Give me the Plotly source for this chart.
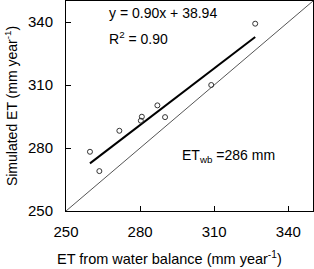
import plotly.graph_objects as go

et_wb = [259.7, 263.5, 271.6, 280.7, 280.3, 287.0, 290.1, 308.8, 326.6]
et_sim = [278.2, 269.0, 288.2, 294.9, 293.0, 300.3, 294.7, 310.0, 339.2]
slope = 0.90
intercept = 38.94
axis_range = [250, 350]
tick_vals = [250, 280, 310, 340]

FAM = "Liberation Sans, Arial, sans-serif"
fig = go.Figure()
fig.add_trace(go.Scatter(x=axis_range, y=axis_range, mode="lines",
                         line=dict(color="#555555", width=1), hoverinfo="skip"))
xfit = [min(et_wb), max(et_wb)]
yfit = [slope * v + intercept for v in xfit]
fig.add_trace(go.Scatter(x=xfit, y=yfit, mode="lines",
                         line=dict(color="black", width=2)))
fig.add_trace(go.Scatter(x=et_wb, y=et_sim, mode="markers",
                         marker=dict(symbol="circle-open", size=5,
                                     color="#333333", line=dict(width=1))))

font = dict(family=FAM, size=14, color="black")
fig.add_annotation(x=0.165, y=0.99, xref="paper", yref="paper", xanchor="left", yanchor="top",
                   text="y = 0.90x + 38.94", showarrow=False, font=font)
fig.add_annotation(x=0.165, y=0.875, xref="paper", yref="paper", xanchor="left", yanchor="top",
                   text="R<sup>2</sup> = 0.90", showarrow=False, font=font)
fig.add_annotation(x=0.46, y=0.26, xref="paper", yref="paper", xanchor="left", yanchor="middle",
                   text="ET<sub>wb</sub> =286 mm", showarrow=False, font=font)
fig.add_annotation(x=0.421, y=-0.226, xref="paper", yref="paper", xanchor="center", yanchor="middle",
                   text="ET from water balance (mm year<sup>-1</sup>)", showarrow=False,
                   font=dict(family=FAM, size=14.5, color="black"))

axis_common = dict(range=axis_range, tickvals=tick_vals, ticks="inside", ticklen=5,
                   tickcolor="black", showline=True, linecolor="black", linewidth=1,
                   mirror=True, showgrid=False, zeroline=False,
                   tickfont=dict(family=FAM, size=15, color="black"))
fig.update_xaxes(**axis_common, ticklabelstandoff=7)
fig.update_yaxes(**axis_common, ticklabelstandoff=9,
                 title=dict(text="Simulated ET (mm year<sup>-1</sup>)", standoff=7,
                            font=dict(family=FAM, size=14, color="black")))
fig.update_layout(width=314, height=269, margin=dict(l=66, r=1, t=1, b=58),
                  plot_bgcolor="white", paper_bgcolor="white", showlegend=False)
fig.write_html("out.html")
